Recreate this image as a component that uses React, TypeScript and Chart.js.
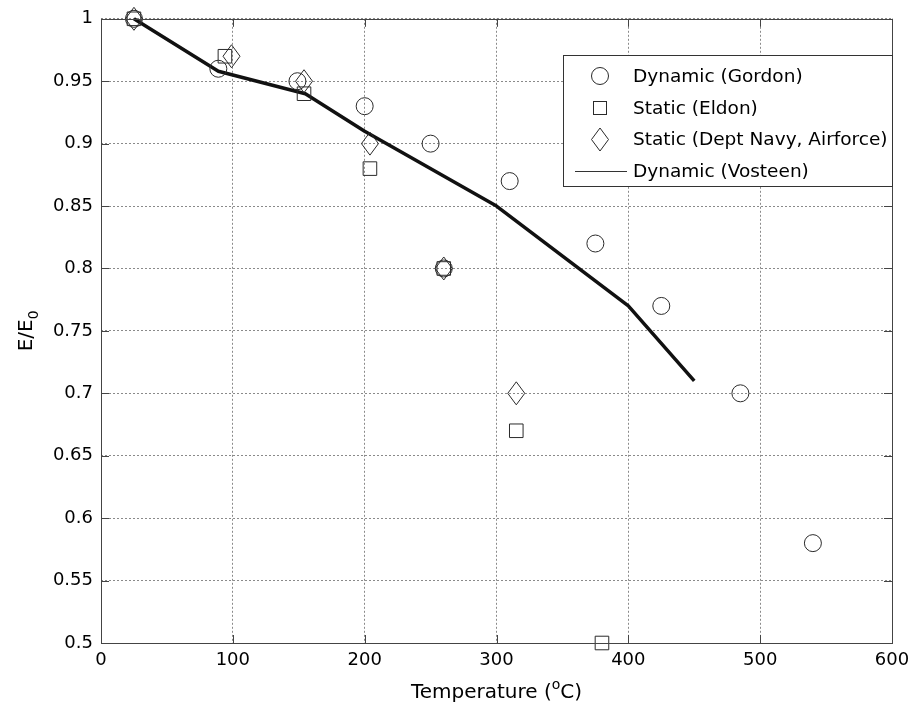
import React, { useEffect, useRef } from "react";
import { Chart, registerables } from "chart.js";

Chart.register(...registerables);

// ---- Data ----
const gordonT = [25, 89, 149, 200, 250, 260, 310, 375, 425, 485, 540];
const gordonE = [1.0, 0.96, 0.95, 0.93, 0.9, 0.8, 0.87, 0.82, 0.77, 0.7, 0.58];

const eldonT = [25, 94, 154, 204, 260, 315, 380];
const eldonE = [1.0, 0.97, 0.94, 0.88, 0.8, 0.67, 0.5];

const navyT = [25, 99, 154, 204, 260, 315];
const navyE = [1.0, 0.97, 0.95, 0.9, 0.8, 0.7];

const vosteenT = [25, 89, 155, 200, 300, 400, 450];
const vosteenE = [1.0, 0.958, 0.94, 0.91, 0.85, 0.77, 0.71];

const seriesLabels = [
  "Dynamic (Gordon)",
  "Static (Eldon)",
  "Static (Dept Navy, Airforce)",
  "Dynamic (Vosteen)",
];

const xTicks = [0, 100, 200, 300, 400, 500, 600];
const yTicks = [0.5, 0.55, 0.6, 0.65, 0.7, 0.75, 0.8, 0.85, 0.9, 0.95, 1];

const FONT = "'DejaVu Sans', sans-serif";
const MARK = "#2a2a2a";

function toPts(xs: number[], ys: number[]) {
  return xs.map((x, i) => ({ x, y: ys[i] }));
}

function diamondPath(ctx: CanvasRenderingContext2D, x: number, y: number) {
  ctx.beginPath();
  ctx.moveTo(x, y - 11.5);
  ctx.lineTo(x + 8.5, y);
  ctx.lineTo(x, y + 11.5);
  ctx.lineTo(x - 8.5, y);
  ctx.closePath();
}

export default function App() {
  const ref = useRef<HTMLCanvasElement | null>(null);

  useEffect(() => {
    const canvas = ref.current!;

    const diamonds = {
      id: "diamonds",
      afterDatasetsDraw(chart: any) {
        const ctx = chart.ctx;
        const meta = chart.getDatasetMeta(2);
        ctx.save();
        ctx.strokeStyle = MARK;
        ctx.lineWidth = 1;
        meta.data.forEach((p: any) => {
          diamondPath(ctx, p.x, p.y);
          ctx.stroke();
        });
        ctx.restore();
      },
    };

    const decor = {
      id: "decor",
      afterDraw(chart: any) {
        const { ctx, chartArea: a } = chart;
        const xs = chart.scales.x, ys = chart.scales.y;
        ctx.save();
        // box
        ctx.strokeStyle = "#444";
        ctx.lineWidth = 1;
        ctx.strokeRect(Math.round(a.left) + 0.5, Math.round(a.top) + 0.5, Math.round(a.right - a.left), Math.round(a.bottom - a.top));
        // inward ticks
        ctx.beginPath();
        xTicks.forEach((t) => {
          const px = Math.round(xs.getPixelForValue(t)) + 0.5;
          ctx.moveTo(px, a.bottom); ctx.lineTo(px, a.bottom - 8);
          ctx.moveTo(px, a.top); ctx.lineTo(px, a.top + 8);
        });
        yTicks.forEach((t) => {
          const py = Math.round(ys.getPixelForValue(t)) + 0.5;
          ctx.moveTo(a.left, py); ctx.lineTo(a.left + 8, py);
          ctx.moveTo(a.right, py); ctx.lineTo(a.right - 8, py);
        });
        ctx.stroke();

        // x title with superscript
        ctx.fillStyle = "#000";
        ctx.textBaseline = "alphabetic";
        const big = `20px ${FONT}`, small = `14px ${FONT}`;
        const p1 = "Temperature (", sup = "o", p2 = "C)";
        ctx.font = big; const w1 = ctx.measureText(p1).width; const w3 = ctx.measureText(p2).width;
        ctx.font = small; const w2 = ctx.measureText(sup).width;
        const cx = (a.left + a.right) / 2;
        let sx = cx - (w1 + w2 + w3) / 2;
        const by = 698;
        ctx.font = big; ctx.fillText(p1, sx, by); sx += w1;
        ctx.font = small; ctx.fillText(sup, sx, by - 9); sx += w2;
        ctx.font = big; ctx.fillText(p2, sx, by);

        // y title with subscript
        ctx.save();
        ctx.translate(32, (a.top + a.bottom) / 2);
        ctx.rotate(-Math.PI / 2);
        const q1 = "E/E", sub = "0";
        ctx.font = big; const v1 = ctx.measureText(q1).width;
        ctx.font = small; const v2 = ctx.measureText(sub).width;
        let ly = -(v1 + v2) / 2;
        ctx.font = big; ctx.fillText(q1, ly, 0); ly += v1;
        ctx.font = small; ctx.fillText(sub, ly, 6);
        ctx.restore();

        // legend
        const L = 563, T = 55, R = 893, B = 187;
        ctx.fillStyle = "#fff";
        ctx.fillRect(L, T, R - L, B - T);
        ctx.strokeStyle = "#333";
        ctx.lineWidth = 1;
        ctx.strokeRect(L + 0.5, T + 0.5, R - L - 1, B - T - 1);
        const rows = [76, 108, 139.5, 171];
        ctx.font = `18.5px ${FONT}`;
        ctx.textBaseline = "middle";
        rows.forEach((ry, i) => {
          ctx.strokeStyle = MARK;
          ctx.lineWidth = 1;
          if (i === 0) {
            ctx.beginPath(); ctx.arc(600, ry, 8.5, 0, Math.PI * 2); ctx.stroke();
          } else if (i === 1) {
            ctx.strokeRect(593.5, Math.round(ry) - 6.5, 13, 13);
          } else if (i === 2) {
            diamondPath(ctx, 600, ry); ctx.stroke();
          } else {
            ctx.strokeStyle = "#333";
            ctx.beginPath(); ctx.moveTo(575, Math.round(ry) + 0.5); ctx.lineTo(627, Math.round(ry) + 0.5); ctx.stroke();
          }
          ctx.fillStyle = "#000";
          ctx.fillText(seriesLabels[i], 633, ry + 1);
        });
        ctx.restore();
      },
    };

    const chart = new Chart(canvas, {
      type: "scatter",
      data: {
        datasets: [
          { label: seriesLabels[0], data: toPts(gordonT, gordonE), pointStyle: "circle", pointRadius: 8.5, pointBorderColor: MARK, pointBackgroundColor: "rgba(0,0,0,0)", pointBorderWidth: 1, showLine: false, clip: false as any },
          { label: seriesLabels[1], data: toPts(eldonT, eldonE), pointStyle: "rect", pointRadius: 9.6, pointBorderColor: MARK, pointBackgroundColor: "rgba(0,0,0,0)", pointBorderWidth: 1, showLine: false, clip: false as any },
          { label: seriesLabels[2], data: toPts(navyT, navyE), pointStyle: "rectRot", pointRadius: 10, pointBorderColor: "rgba(0,0,0,0)", pointBackgroundColor: "rgba(0,0,0,0)", pointBorderWidth: 0, showLine: false, clip: false as any },
          { label: seriesLabels[3], data: toPts(vosteenT, vosteenE), showLine: true, pointRadius: 0, borderColor: "#111", borderWidth: 3.5, borderJoinStyle: "round", clip: false as any },
        ],
      },
      options: {
        animation: false,
        responsive: false,
        devicePixelRatio: 1,
        layout: { padding: { top: 17, right: 29, left: 0, bottom: 0 } },
        plugins: { legend: { display: false }, tooltip: { enabled: false } },
        scales: {
          x: {
            type: "linear",
            min: 0, max: 600,
            afterBuildTicks: (s: any) => { s.ticks = xTicks.map((v) => ({ value: v })); },
            afterFit: (s: any) => { s.height = 66; },
            ticks: { font: { family: FONT, size: 18 }, color: "#000", padding: 7, maxRotation: 0, callback: (v: any) => String(v) },
            grid: { color: "#8a8a8a", lineWidth: 1, drawTicks: false },
            border: { display: false, dash: [2, 2] },
          },
          y: {
            type: "linear",
            min: 0.5, max: 1,
            afterBuildTicks: (s: any) => { s.ticks = yTicks.map((v) => ({ value: v })); },
            afterFit: (s: any) => { s.width = 101; },
            ticks: { font: { family: FONT, size: 18 }, color: "#000", padding: 8, callback: (v: any) => String(Math.round(Number(v) * 100) / 100) },
            grid: { color: "#8a8a8a", lineWidth: 1, drawTicks: false },
            border: { display: false, dash: [2, 2] },
          },
        },
      },
      plugins: [diamonds, decor],
    } as any);

    return () => chart.destroy();
  }, []);

  return (
    <div style={{ position: "absolute", left: 0, top: 0, width: 921, height: 709, background: "#fff" }}>
      <canvas ref={ref} width={921} height={709} style={{ display: "block", width: 921, height: 709 }} />
    </div>
  );
}
